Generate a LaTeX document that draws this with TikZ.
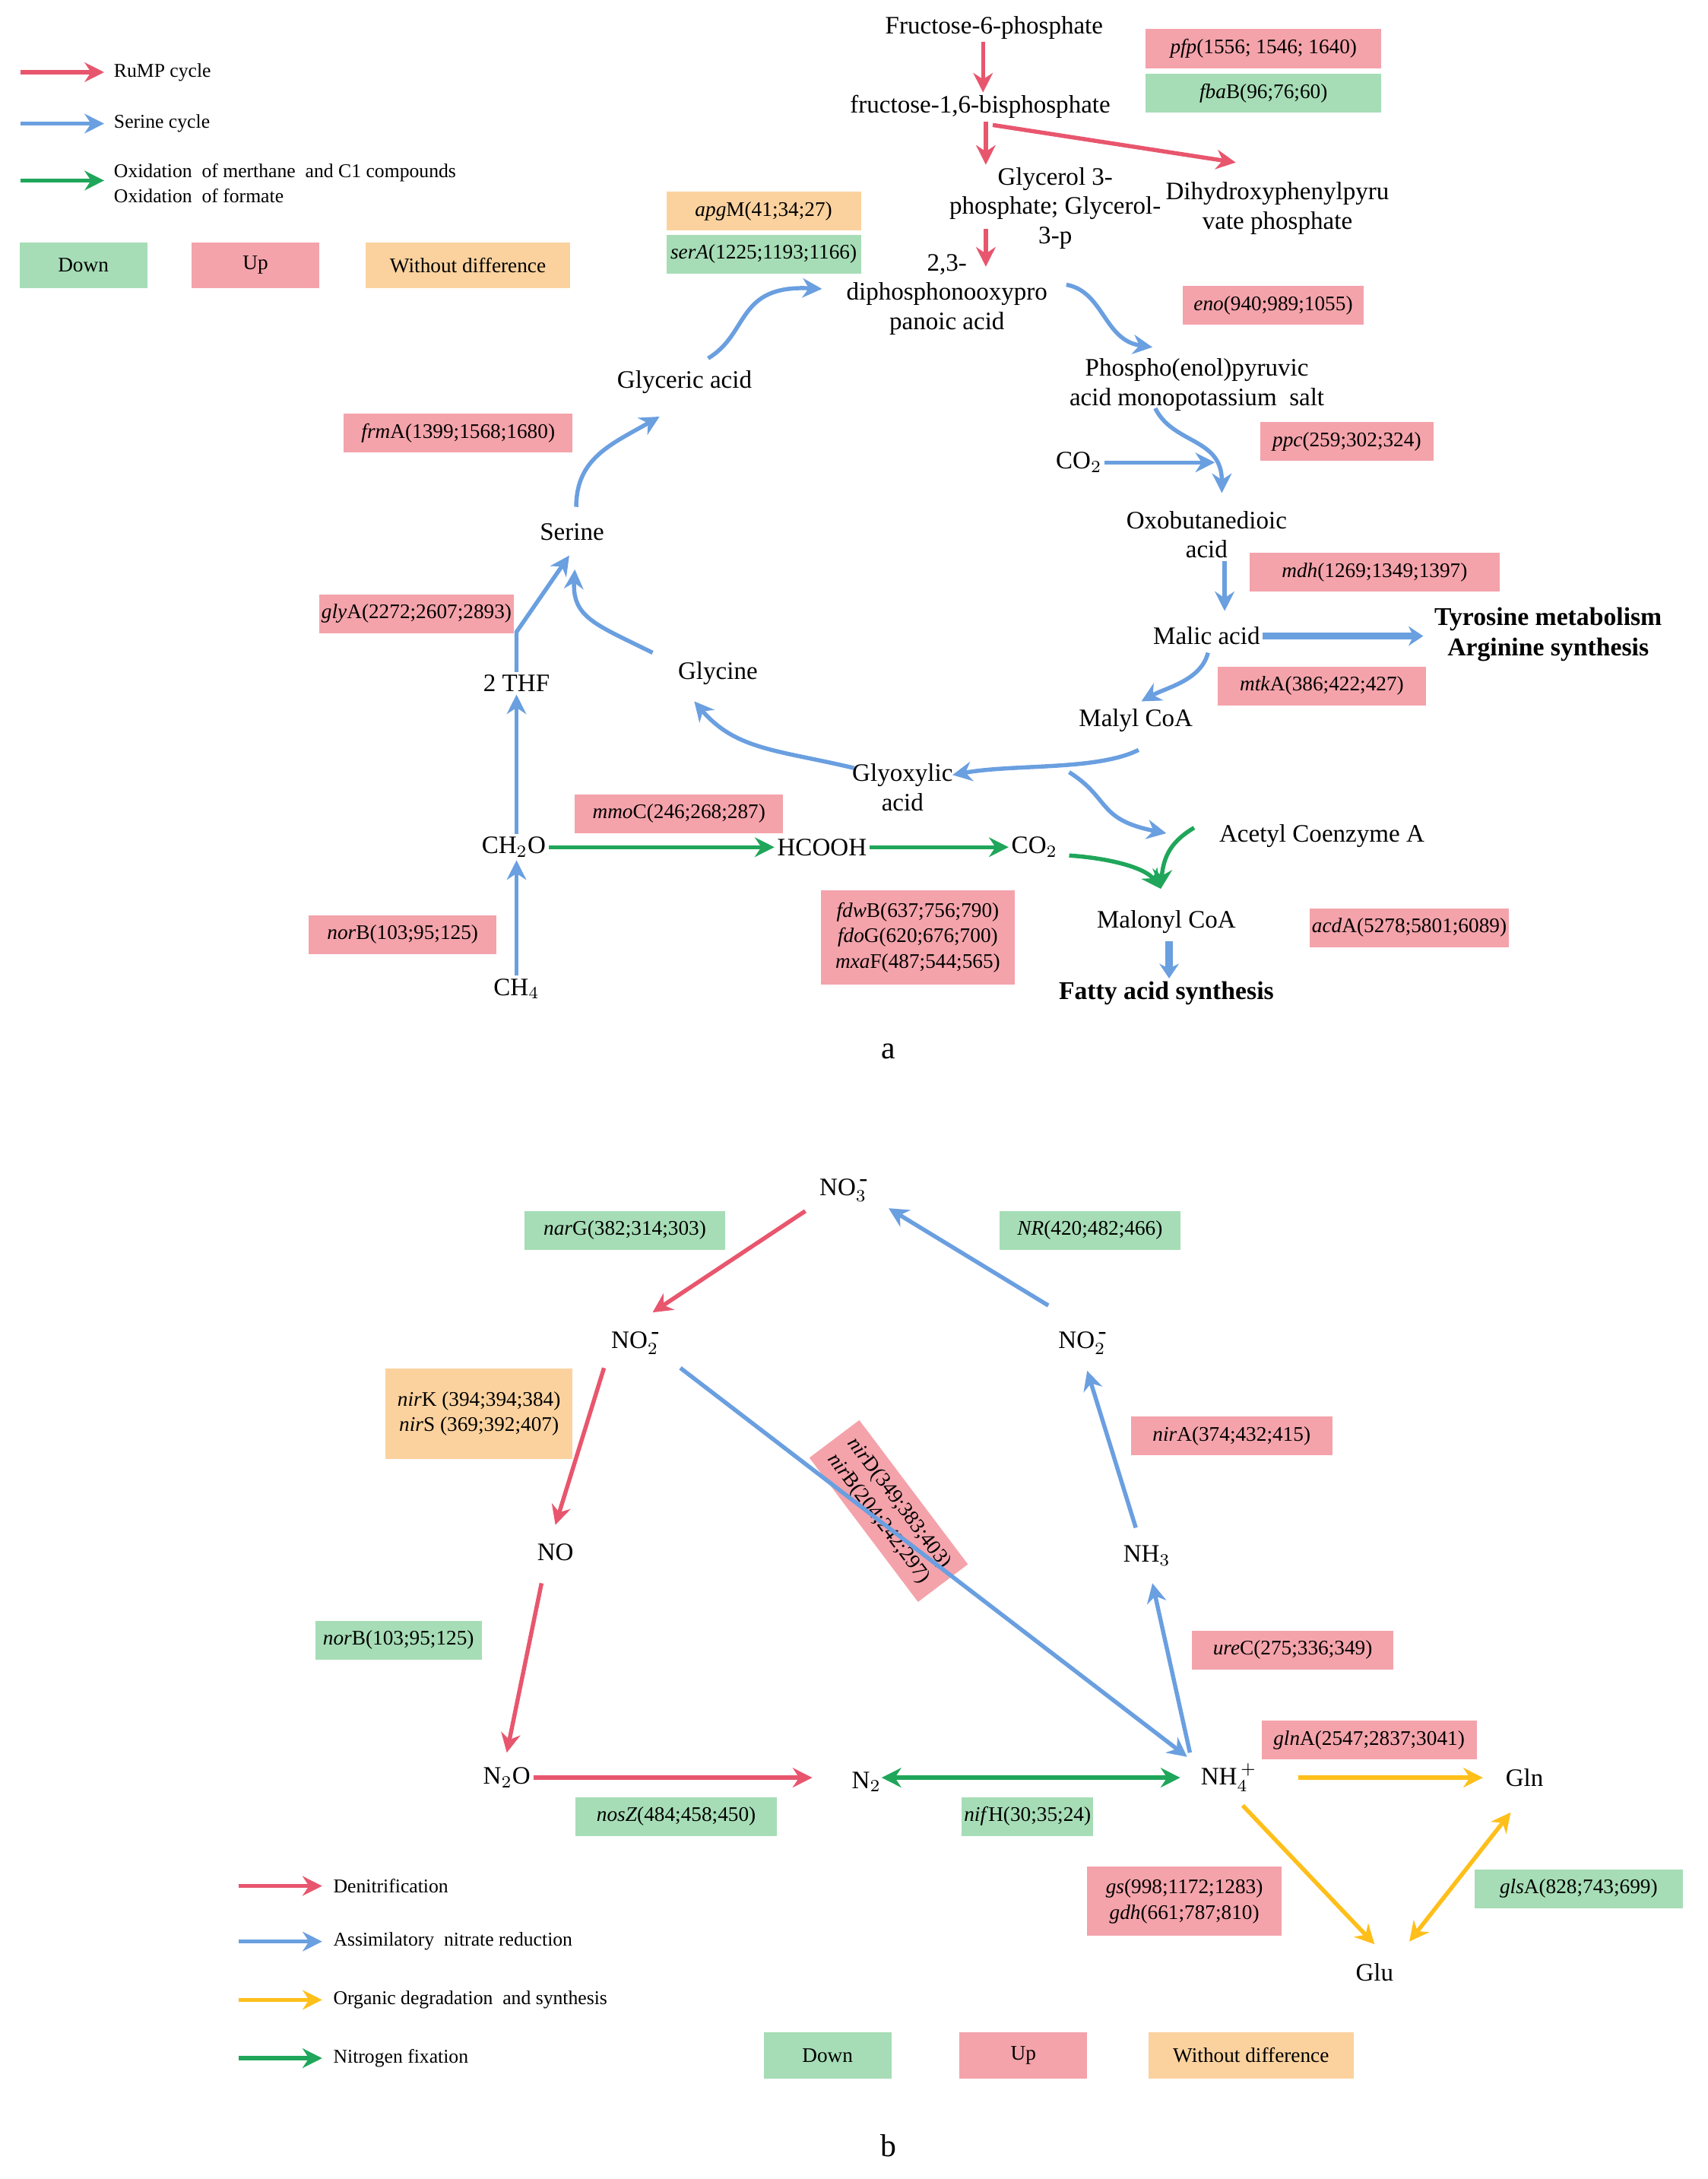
\documentclass[tikz,border=0pt]{standalone}
\usepackage{fontspec}
\setmainfont{Liberation Serif}
\usetikzlibrary{arrows.meta}
\definecolor{cr}{HTML}{E8566E}
\definecolor{cb}{HTML}{6A9FE0}
\definecolor{cg}{HTML}{1FA65A}
\definecolor{co}{HTML}{FFBF1A}
\definecolor{fr}{HTML}{F4A3AB}
\definecolor{fg}{HTML}{A6DDB6}
\definecolor{fo}{HTML}{FBD29E}
\newcommand{\mn}{\mbox{-}}
\begin{document}
\begin{tikzpicture}[x=0.02cm,y=-0.02cm,
 lab/.style={font=\fontsize{10.3}{12}\selectfont,align=center,inner sep=1pt},
 bl/.style={font=\fontsize{10.5}{12.5}\selectfont\bfseries,align=center,inner sep=1pt},
 leg/.style={font=\fontsize{8}{10}\selectfont,anchor=west,inner sep=1pt,align=left},
 gb/.style={font=\fontsize{8.5}{10.5}\selectfont,minimum height=0.56cm,inner sep=1pt,align=center},
 R/.style={gb,fill=fr},G/.style={gb,fill=fg},O/.style={gb,fill=fo},
 ar/.style={line width=1.7pt,-{Stealth[length=8pt,width=8pt]}},
 ar2/.style={line width=1.7pt,{Stealth[length=8pt,width=8pt]}-{Stealth[length=8pt,width=8pt]}},
 ta/.style={line width=3pt,-{Stealth[length=6pt,width=8pt]}}]
\useasboundingbox (0,0) rectangle (1230,1569);
% legend a
\coordinate (l1a) at (15,52); \coordinate (l1b) at (75,52);
\draw[ar,cr] (l1a)--(l1b); \node[leg] (l1) at (80,52) {RuMP cycle};
\coordinate (l2a) at (15,89); \coordinate (l2b) at (75,89);
\draw[ar,cb] (l2a)--(l2b); \node[leg] (l2) at (80,89) {Serine cycle};
\coordinate (l3a) at (15,130); \coordinate (l3b) at (75,130);
\draw[ar,cg] (l3a)--(l3b); \node[leg] (l3) at (80,132) {Oxidation \ of merthane \ and C1 compounds\\Oxidation \ of formate};
\node[G,minimum width=1.84cm,minimum height=0.66cm] (d1) at (60,191) {Down};
\node[R,minimum width=1.84cm,minimum height=0.66cm] (u1) at (184,191) {Up};
\node[O,minimum width=2.94cm,minimum height=0.66cm] (w1) at (337,191) {Without difference};
% nodes a
\node[lab] (f6p) at (716,20) {Fructose-6-phosphate};
\node[lab] (f16) at (706,77) {fructose-1,6-bisphosphate};
\node[lab] (g3p) at (760,150) {Glycerol 3-\\phosphate; Glycerol-\\3-p};
\node[lab] (dhp) at (920,150) {Dihydroxyphenylpyru\\vate phosphate};
\node[lab] (dpp) at (682,212) {2,3-\\diphosphonooxypro\\panoic acid};
\node[lab] (pep) at (862,277) {Phospho(enol)pyruvic\\acid monopotassium \ salt};
\node[lab] (co2a) at (777,333) {CO$_2$};
\node[lab] (oxb) at (869,385) {Oxobutanedioic\\acid};
\node[lab] (mal) at (869,458) {Malic acid};
\node[bl] (tyr) at (1115,457) {Tyrosine metabolism\\Arginine synthesis};
\node[lab] (mcoa) at (818,519) {Malyl CoA};
\node[lab] (gly) at (650,567) {Glyoxylic\\acid};
\node[lab] (acoa) at (952,602) {Acetyl Coenzyme A};
\node[lab] (mlc) at (840,664) {Malonyl CoA};
\node[bl] (fat) at (840,715) {Fatty acid synthesis};
\node[lab] (co2b) at (745,610) {CO$_2$};
\node[lab] (hco) at (592,610) {HCOOH};
\node[lab] (ch2o) at (370,610) {CH$_2$O};
\node[lab] (ch4) at (372,712) {CH$_4$};
\node[lab] (thf) at (372,492) {2 THF};
\node[lab] (ser) at (412,383) {Serine};
\node[lab] (gla) at (493,275) {Glyceric acid};
\node[lab] (gln) at (517,485) {Glycine};
% genes a
\node[R,minimum width=3.4cm] (pfp) at (910,35) {\textit{pfp}(1556; 1546; 1640)};
\node[G,minimum width=3.4cm] (fba) at (910,67) {\textit{fba}B(96;76;60)};
\node[O,minimum width=2.8cm] (apg) at (550,152) {\textit{apg}M(41;34;27)};
\node[G,minimum width=2.8cm] (sera) at (550,183) {\textit{serA}(1225;1193;1166)};
\node[R,minimum width=2.6cm] (eno) at (917,220) {\textit{eno}(940;989;1055)};
\node[R,minimum width=3.3cm] (frm) at (330,312) {\textit{frm}A(1399;1568;1680)};
\node[R,minimum width=2.5cm] (ppc) at (970,318) {\textit{ppc}(259;302;324)};
\node[R,minimum width=3.6cm] (mdh) at (990,412) {\textit{mdh}(1269;1349;1397)};
\node[R,minimum width=2.8cm] (glyA) at (300,442) {\textit{gly}A(2272;2607;2893)};
\node[R,minimum width=3.0cm] (mtk) at (952,494) {\textit{mtk}A(386;422;427)};
\node[R,minimum width=3.0cm] (mmo) at (489,586) {\textit{mmo}C(246;268;287)};
\node[R,minimum width=2.7cm] (norBa) at (290,673) {\textit{nor}B(103;95;125)};
\node[R,minimum width=2.8cm,minimum height=1.36cm] (fdw) at (661,675) {\textit{fdw}B(637;756;790)\\\textit{fdo}G(620;676;700)\\\textit{mxa}F(487;544;565)};
\node[R,minimum width=2.4cm] (acd) at (1015,668) {\textit{acd}A(5278;5801;6089)};
% arrows a
\draw[ar,cr] (f6p.south -| 708,0) -- (f16.north -| 708,0);
\draw[ar,cr] (f16.south -| 710,0) -- (g3p.north -| 710,0);
\coordinate (rs) at (715,90); \coordinate (re) at (890,117);
\draw[ar,cr] (rs) -- (re);
\coordinate (g1) at (710,165); \coordinate (g2) at (710,192);
\draw[ar,cr] (g1) -- (g2);
\coordinate (b1) at (510,258); \coordinate (b2) at (592,208);
\draw[ar,cb] (b1) .. controls (540,240) and (530,205) .. (b2);
\coordinate (b3) at (768,205); \coordinate (b4) at (830,250);
\draw[ar,cb] (b3) .. controls (795,210) and (795,245) .. (b4);
\coordinate (b5) at (832,294); \coordinate (b6) at (880,355);
\draw[ar,cb] (b5) .. controls (845,320) and (880,315) .. (b6);
\coordinate (b7) at (875,333);
\draw[ar,cb] (co2a.east) -- (b7);
\draw[ar,cb] (oxb.south -| 882,0) -- (882,440);
\coordinate (b8) at (1025,458);
\draw[ta,cb] (mal.east) -- (b8);
\coordinate (b9) at (870,470); \coordinate (b10) at (822,505);
\draw[ar,cb] (b9) .. controls (865,490) and (840,495) .. (b10);
\coordinate (b11) at (820,540); \coordinate (b12) at (686,558);
\draw[ar,cb] (b11) .. controls (790,555) and (730,550) .. (b12);
\coordinate (b13) at (770,556); \coordinate (b14) at (840,600);
\draw[ar,cb] (b13) .. controls (800,575) and (790,590) .. (b14);
\coordinate (b15) at (615,553); \coordinate (b16) at (500,505);
\draw[ar,cb] (b15) .. controls (560,540) and (530,540) .. (b16);
\coordinate (b17) at (470,470); \coordinate (b18) at (414,410);
\draw[ar,cb] (b17) .. controls (430,450) and (412,445) .. (b18);
\coordinate (b19) at (415,365); \coordinate (b20) at (475,300);
\draw[ar,cb] (b19) .. controls (415,330) and (440,320) .. (b20);
\draw[ar,cb] (ch2o.north -| 372,0) -- (thf.south -| 372,0);
\coordinate (b21) at (410,400);
\draw[ar,cb] (thf.north -| 372,0) -- (372,455) -- (b21);
\draw[ar,cb] (ch4.north -| 372,0) -- (ch2o.south -| 372,0);
\draw[ar,cg] (ch2o.east) -- (hco.west);
\draw[ar,cg] (hco.east) -- (co2b.west);
\coordinate (g3) at (770,616); \coordinate (g4) at (836,640);
\draw[ar,cg] (g3) .. controls (800,618) and (825,625) .. (g4);
\coordinate (g5) at (860,596);
\draw[ar,cg] (g5) .. controls (845,605) and (838,615) .. (g4);
\draw[ta,cb] (842,678) -- (fat.north -| 842,0);
\node[font=\fontsize{13}{14}\selectfont] (ca) at (640,757) {a};
% part b
\node[lab] (no3) at (608,857) {NO$_3^{\,\mn}$};
\node[lab] (no2l) at (458,967) {NO$_2^{\,\mn}$};
\node[lab] (no2r) at (780,967) {NO$_2^{\,\mn}$};
\node[lab] (no) at (400,1118) {NO};
\node[lab] (nh3) at (826,1120) {NH$_3$};
\node[lab] (n2o) at (365,1280) {N$_2$O};
\node[lab] (n2) at (624,1283) {N$_2$};
\node[lab] (nh4) at (885,1280) {NH$_4^{\,+}$};
\node[lab] (glnb) at (1098,1280) {Gln};
\node[lab] (glu) at (990,1420) {Glu};
\node[R,minimum width=2.6cm,minimum height=0.9cm,rotate=-53] (nird) at (640,1088) {\textit{nir}D(349;383;403)\\\textit{nir}B(204;242;297)};
\coordinate (n1) at (580,872); \coordinate (n2a) at (470,945);
\draw[ar,cr] (n1) -- (n2a);
\coordinate (n3) at (755,940); \coordinate (n4) at (640,870);
\draw[ar,cb] (n3) -- (n4);
\coordinate (n5) at (435,985); \coordinate (n6) at (400,1098);
\draw[ar,cr] (n5) -- (n6);
\coordinate (n7) at (490,985); \coordinate (n8) at (855,1265);
\draw[ar,cb] (n7) -- (n8);
\coordinate (n9) at (818,1100); \coordinate (n10) at (783,987);
\draw[ar,cb] (n9) -- (n10);
\coordinate (n11) at (857,1262); \coordinate (n12) at (830,1140);
\draw[ar,cb] (n11) -- (n12);
\coordinate (n13) at (390,1140); \coordinate (n14) at (365,1262);
\draw[ar,cr] (n13) -- (n14);
\coordinate (n15) at (585,1280);
\draw[ar,cr] (n2o.east) -- (n15);
\coordinate (n16) at (635,1280); \coordinate (n17) at (850,1280);
\draw[ar2,cg] (n16) -- (n17);
\coordinate (n18) at (935,1280); \coordinate (n19) at (1068,1280);
\draw[ar,co] (n18) -- (n19);
\coordinate (n20) at (895,1300); \coordinate (n21) at (990,1400);
\draw[ar,co] (n20) -- (n21);
\coordinate (n22) at (1015,1398); \coordinate (n23) at (1088,1305);
\draw[ar2,co] (n22) -- (n23);
% genes b
\node[G,minimum width=2.9cm] (nar) at (450,886) {\textit{nar}G(382;314;303)};
\node[G,minimum width=2.6cm] (nr) at (785,886) {\textit{NR}(420;482;466)};
\node[O,minimum width=2.7cm,minimum height=1.3cm] (nir) at (345,1018) {\textit{nir}K (394;394;384)\\\textit{nir}S (369;392;407)};
\node[R,minimum width=2.9cm] (nira) at (887,1034) {\textit{nir}A(374;432;415)};
\node[G,minimum width=2.4cm] (norBb) at (287,1181) {\textit{nor}B(103;95;125)};
\node[R,minimum width=2.9cm] (ure) at (931,1188) {\textit{ure}C(275;336;349)};
\node[R,minimum width=3.1cm] (glna) at (986,1253) {\textit{gln}A(2547;2837;3041)};
\node[G,minimum width=2.9cm] (nos) at (487,1308) {\textit{nosZ}(484;458;450)};
\node[G,minimum width=1.9cm] (nif) at (740,1308) {\textit{nif}H(30;35;24)};
\node[R,minimum width=2.8cm,minimum height=1.0cm] (gs) at (853,1369) {\textit{gs}(998;1172;1283)\\\textit{gdh}(661;787;810)};
\node[G,minimum width=3.0cm] (gls) at (1137,1360) {\textit{gls}A(828;743;699)};
% legend b
\draw[ar,cr] (172,1358) -- (232,1358); \node[leg] (lb1) at (238,1358) {Denitrification};
\draw[ar,cb] (172,1398) -- (232,1398); \node[leg] (lb2) at (238,1398) {Assimilatory \ nitrate reduction};
\draw[ar,co] (172,1440) -- (232,1440); \node[leg] (lb3) at (238,1440) {Organic degradation \ and synthesis};
\draw[ar,cg] (172,1482) -- (232,1482); \node[leg] (lb4) at (238,1482) {Nitrogen fixation};
\node[G,minimum width=1.84cm,minimum height=0.66cm] (d2) at (596,1480) {Down};
\node[R,minimum width=1.84cm,minimum height=0.66cm] (u2) at (737,1480) {Up};
\node[O,minimum width=2.96cm,minimum height=0.66cm] (w2) at (901,1480) {Without difference};
\node[font=\fontsize{13}{14}\selectfont] (cb2) at (640,1545) {b};
\end{tikzpicture}
\end{document}
